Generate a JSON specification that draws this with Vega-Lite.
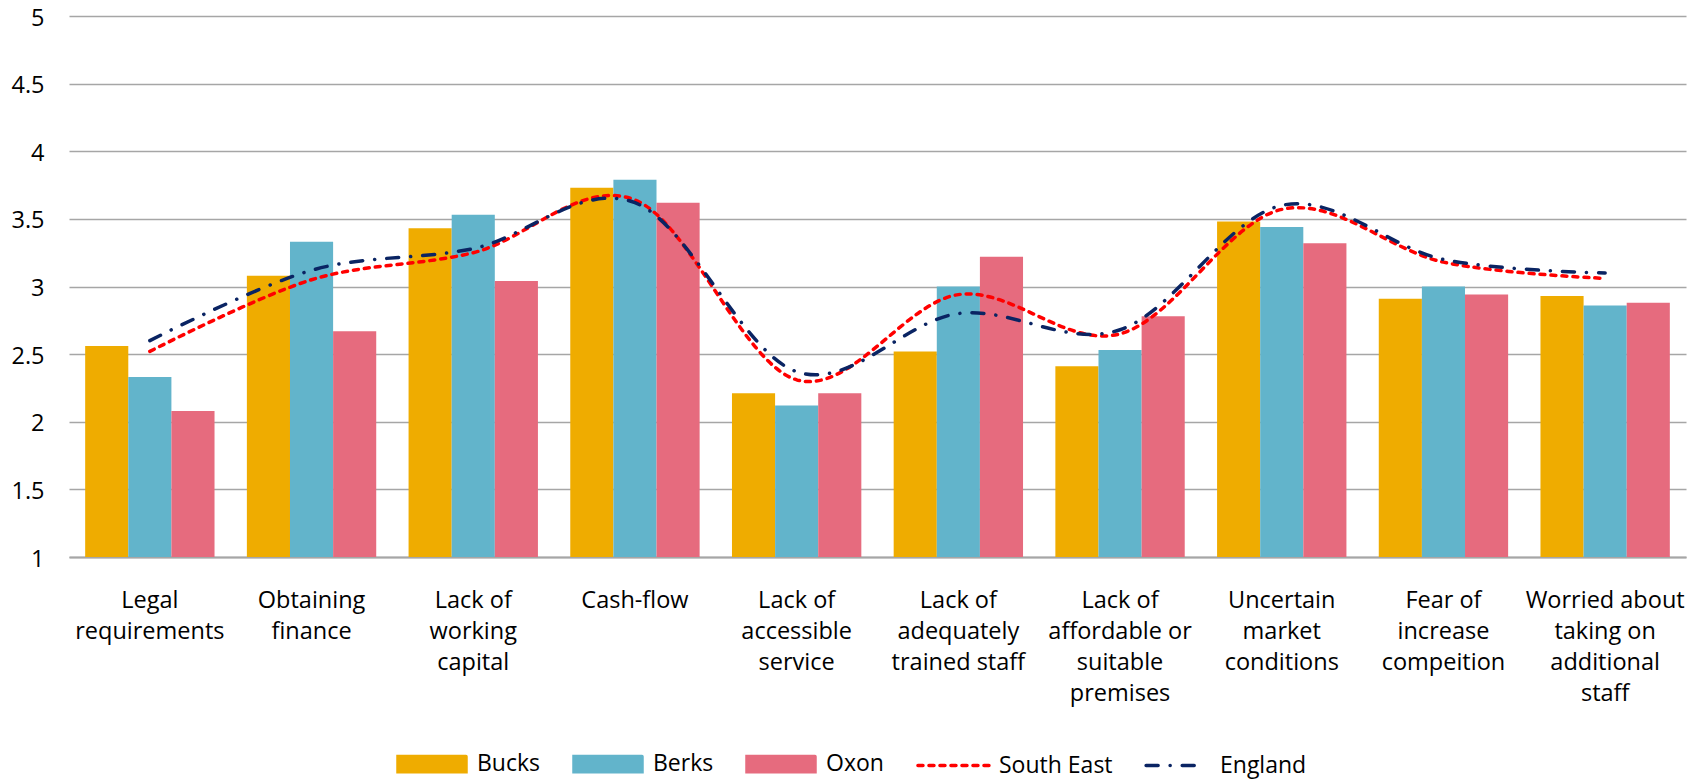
{
  "$schema": "https://vega.github.io/schema/vega-lite/v6.json",
  "width": 1617,
  "height": 541,
  "autosize": {"type": "none"},
  "padding": {"left": 69, "top": 16, "right": 16, "bottom": 222},
  "background": "white",
  "config": {
    "view": {"stroke": null},
    "font": "Open Sans",
    "axis": {"labelFont": "Open Sans", "labelFontSize": 23.5, "labelColor": "#000000"}
  },
  "datasets": {
    "bars": [
      {"category": "Legal requirements", "region": "Bucks", "value": 2.56},
      {"category": "Legal requirements", "region": "Berks", "value": 2.33},
      {"category": "Legal requirements", "region": "Oxon", "value": 2.08},
      {"category": "Obtaining finance", "region": "Bucks", "value": 3.08},
      {"category": "Obtaining finance", "region": "Berks", "value": 3.33},
      {"category": "Obtaining finance", "region": "Oxon", "value": 2.67},
      {"category": "Lack of working capital", "region": "Bucks", "value": 3.43},
      {"category": "Lack of working capital", "region": "Berks", "value": 3.53},
      {"category": "Lack of working capital", "region": "Oxon", "value": 3.04},
      {"category": "Cash-flow", "region": "Bucks", "value": 3.73},
      {"category": "Cash-flow", "region": "Berks", "value": 3.79},
      {"category": "Cash-flow", "region": "Oxon", "value": 3.62},
      {"category": "Lack of accessible service", "region": "Bucks", "value": 2.21},
      {"category": "Lack of accessible service", "region": "Berks", "value": 2.12},
      {"category": "Lack of accessible service", "region": "Oxon", "value": 2.21},
      {"category": "Lack of adequately trained staff", "region": "Bucks", "value": 2.52},
      {"category": "Lack of adequately trained staff", "region": "Berks", "value": 3.0},
      {"category": "Lack of adequately trained staff", "region": "Oxon", "value": 3.22},
      {"category": "Lack of affordable or suitable premises", "region": "Bucks", "value": 2.41},
      {"category": "Lack of affordable or suitable premises", "region": "Berks", "value": 2.53},
      {"category": "Lack of affordable or suitable premises", "region": "Oxon", "value": 2.78},
      {"category": "Uncertain market conditions", "region": "Bucks", "value": 3.48},
      {"category": "Uncertain market conditions", "region": "Berks", "value": 3.44},
      {"category": "Uncertain market conditions", "region": "Oxon", "value": 3.32},
      {"category": "Fear of increase compeition", "region": "Bucks", "value": 2.91},
      {"category": "Fear of increase compeition", "region": "Berks", "value": 3.0},
      {"category": "Fear of increase compeition", "region": "Oxon", "value": 2.94},
      {"category": "Worried about taking on additional staff", "region": "Bucks", "value": 2.93},
      {"category": "Worried about taking on additional staff", "region": "Berks", "value": 2.86},
      {"category": "Worried about taking on additional staff", "region": "Oxon", "value": 2.88}
    ],
    "lines": [
      {"category": "Legal requirements", "region": "South East", "value": 2.52},
      {"category": "Obtaining finance", "region": "South East", "value": 3.05},
      {"category": "Lack of working capital", "region": "South East", "value": 3.25},
      {"category": "Cash-flow", "region": "South East", "value": 3.64},
      {"category": "Lack of accessible service", "region": "South East", "value": 2.31},
      {"category": "Lack of adequately trained staff", "region": "South East", "value": 2.94},
      {"category": "Lack of affordable or suitable premises", "region": "South East", "value": 2.65},
      {"category": "Uncertain market conditions", "region": "South East", "value": 3.57},
      {"category": "Fear of increase compeition", "region": "South East", "value": 3.18},
      {"category": "Worried about taking on additional staff", "region": "South East", "value": 3.06},
      {"category": "Legal requirements", "region": "England", "value": 2.6},
      {"category": "Obtaining finance", "region": "England", "value": 3.12},
      {"category": "Lack of working capital", "region": "England", "value": 3.28},
      {"category": "Cash-flow", "region": "England", "value": 3.62},
      {"category": "Lack of accessible service", "region": "England", "value": 2.37},
      {"category": "Lack of adequately trained staff", "region": "England", "value": 2.8},
      {"category": "Lack of affordable or suitable premises", "region": "England", "value": 2.68},
      {"category": "Uncertain market conditions", "region": "England", "value": 3.6},
      {"category": "Fear of increase compeition", "region": "England", "value": 3.2},
      {"category": "Worried about taking on additional staff", "region": "England", "value": 3.1}
    ]
  },
  "layer": [
    {
      "data": {"name": "bars"},
      "mark": {"type": "bar"},
      "encoding": {
        "x": {
          "field": "category",
          "type": "nominal",
          "scale": {
            "domain": ["Legal requirements", "Obtaining finance", "Lack of working capital", "Cash-flow", "Lack of accessible service", "Lack of adequately trained staff", "Lack of affordable or suitable premises", "Uncertain market conditions", "Fear of increase compeition", "Worried about taking on additional staff"],
            "paddingInner": 0.2,
            "paddingOuter": 0.1
          },
          "axis": {
            "title": null,
            "labelAngle": 0,
            "ticks": false,
            "domain": true,
            "domainColor": "#A6A6A6",
            "domainWidth": 2,
            "labelPadding": 31,
            "labelLineHeight": 31,
            "labelBaseline": "top",
            "labelLimit": 300,
            "labelOverlap": false,
            "labelExpr": "{'Legal requirements': ['Legal', 'requirements'], 'Obtaining finance': ['Obtaining', 'finance'], 'Lack of working capital': ['Lack of', 'working', 'capital'], 'Cash-flow': ['Cash-flow'], 'Lack of accessible service': ['Lack of', 'accessible', 'service'], 'Lack of adequately trained staff': ['Lack of', 'adequately', 'trained staff'], 'Lack of affordable or suitable premises': ['Lack of', 'affordable or', 'suitable', 'premises'], 'Uncertain market conditions': ['Uncertain', 'market', 'conditions'], 'Fear of increase compeition': ['Fear of', 'increase', 'compeition'], 'Worried about taking on additional staff': ['Worried about', 'taking on', 'additional', 'staff']}[datum.value]"
          }
        },
        "xOffset": {
          "field": "region",
          "type": "nominal",
          "scale": {"domain": ["Bucks", "Berks", "Oxon"], "paddingInner": 0, "paddingOuter": 0}
        },
        "y": {
          "field": "value",
          "type": "quantitative",
          "scale": {"domain": [1, 5], "nice": false, "zero": false},
          "axis": {
            "title": null,
            "values": [1, 1.5, 2, 2.5, 3, 3.5, 4, 4.5, 5],
            "format": "~g",
            "domain": false,
            "ticks": false,
            "grid": true,
            "gridColor": "#A6A6A6",
            "gridWidth": 1.5,
            "labelPadding": 25,
            "labelOffset": 2
          }
        },
        "y2": {"datum": 1},
        "color": {
          "field": "region",
          "type": "nominal",
          "scale": {
            "domain": ["Bucks", "Berks", "Oxon", "South East", "England"],
            "range": ["#EFAC00", "#62B4CB", "#E66B7E", "#FF0000", "#0A2463"]
          },
          "legend": {
            "title": null,
            "orient": "none",
            "legendX": 327,
            "legendY": 712,
            "direction": "horizontal",
            "labelFont": "Open Sans",
            "labelFontSize": 23,
            "labelColor": "#000000",
            "labelOffset": 9,
            "columnPadding": 26,
            "symbolSize": 4624,
            "symbolType": "M-1,-0.225H1V0.225H-1Z",
            "encode": {
              "symbols": {
                "update": {
                  "shape": {"signal": "datum.value === 'South East' ? 'M-1.06,0H1.06' : (datum.value === 'England' ? 'M-0.85,0H0.85' : 'M-1,-0.225H1V0.225H-1Z')"},
                  "fill": {"signal": "(datum.value === 'South East' || datum.value === 'England') ? 'transparent' : scale('color', datum.value)"},
                  "stroke": {"signal": "(datum.value === 'South East' || datum.value === 'England') ? scale('color', datum.value) : 'transparent'"},
                  "strokeWidth": {"value": 3.5},
                  "strokeCap": {"value": "round"},
                  "strokeDash": {"signal": "datum.value === 'South East' ? [5, 6] : (datum.value === 'England' ? [12, 12, 0.1, 12] : [1, 0])"},
                  "opacity": {"value": 1}
                }
              }
            }
          }
        }
      }
    },
    {
      "data": {"name": "lines"},
      "transform": [{"filter": "datum.region === 'South East'"}],
      "mark": {"type": "line", "interpolate": "cardinal", "strokeWidth": 3.5, "strokeDash": [5, 6], "strokeCap": "round"},
      "encoding": {
        "x": {"field": "category", "type": "nominal"},
        "y": {"field": "value", "type": "quantitative"},
        "color": {"field": "region", "type": "nominal"}
      }
    },
    {
      "data": {"name": "lines"},
      "transform": [{"filter": "datum.region === 'England'"}],
      "mark": {"type": "line", "interpolate": "cardinal", "strokeWidth": 3.5, "strokeDash": [12, 12, 0.1, 12], "strokeCap": "round"},
      "encoding": {
        "x": {"field": "category", "type": "nominal"},
        "y": {"field": "value", "type": "quantitative"},
        "color": {"field": "region", "type": "nominal"}
      }
    }
  ]
}
